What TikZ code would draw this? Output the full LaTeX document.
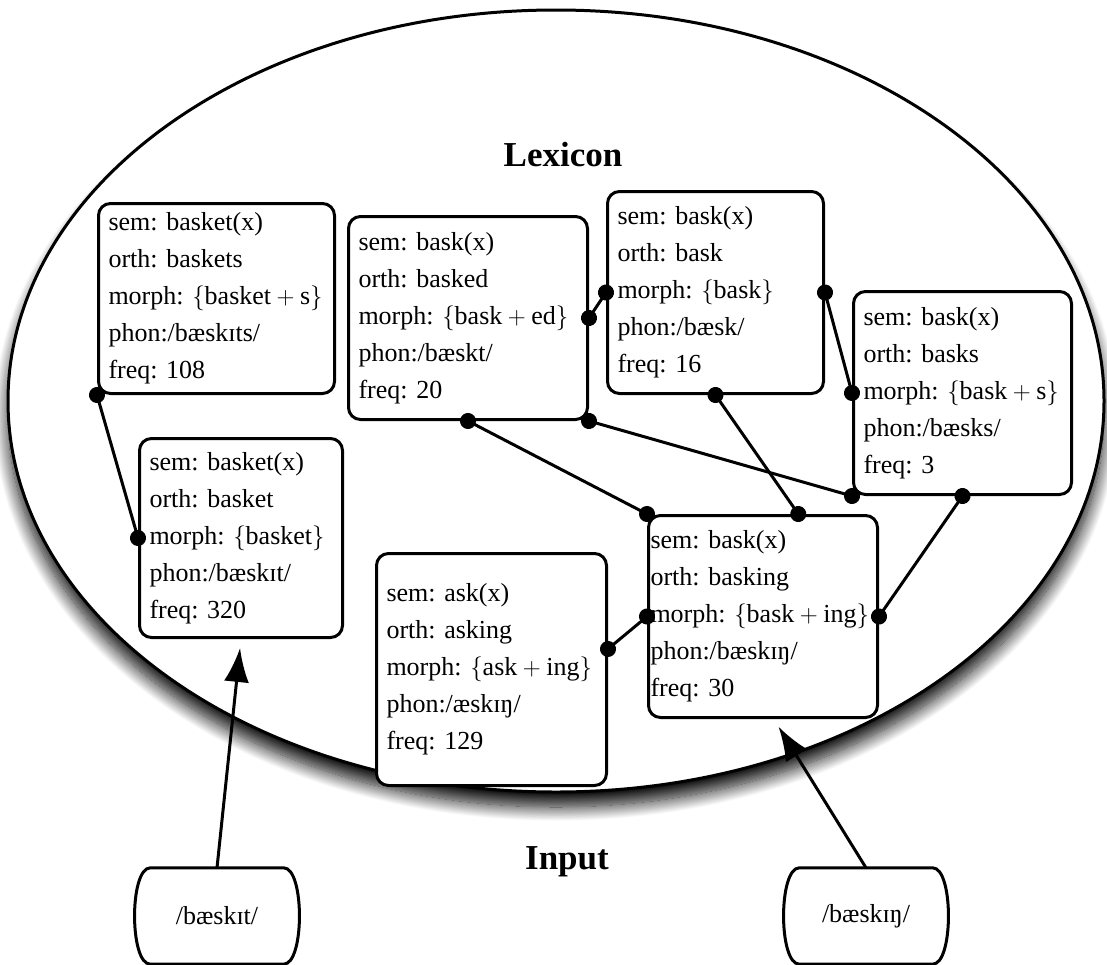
\documentclass[tikz,border=0pt]{standalone}
\usepackage{fontspec}
\setmainfont{Liberation Serif}
\frenchspacing
\usetikzlibrary{arrows.meta,shadows.blur}

\tikzset{
  lexbox/.style={draw, line width=3pt, rounded corners=12pt, fill=white, inner xsep=10pt, inner ysep=0pt, align=left, anchor=north west, font=\fontsize{26}{37}\selectfont},
  inbox/.style={minimum width=165pt, minimum height=96pt, font=\fontsize{26}{37}\selectfont},
  inline/.style={line width=3pt, fill=white},
  link/.style={line width=3pt, {Circle[length=16pt,fill=black]}-{Circle[length=16pt,fill=black]}, shorten <=-8pt, shorten >=-8pt},
  feed/.style={line width=3pt, -{Latex[length=34pt,width=25pt,fill=black]}, shorten >=9pt},
  title/.style={font=\fontsize{35}{40}\selectfont\bfseries}
}

\begin{document}
\begin{tikzpicture}[x=1pt,y=-1pt]

\useasboundingbox (0,0) rectangle (1107,964);

\draw[line width=3pt, fill=white, blur shadow={shadow xshift=0pt, shadow yshift=-15pt, shadow blur radius=14pt, shadow blur steps=20, shadow opacity=95}] (556,401) ellipse [x radius=548, y radius=391];

\node[title] (lex) at (563,155) {Lexicon};
\node[title] (inp) at (567,862) {Input};

\node[lexbox, text width=216pt, minimum height=190pt] (b1) at (97,202) {sem: basket(x)\\orth: baskets\\morph: $\{\mbox{basket}+\mbox{s}\}$\\phon:/bæskɪts/\\freq: 108};
\node[lexbox, text width=183pt, minimum height=199pt] (b2) at (138,437) {sem: basket(x)\\orth: basket\\morph: $\{\mbox{basket}\}$\\phon:/bæskɪt/\\freq: 320};
\node[lexbox, text width=219pt, minimum height=203pt] (b3) at (347,215) {sem: bask(x)\\orth: basked\\morph: $\{\mbox{bask}+\mbox{ed}\}$\\phon:/bæskt/\\freq: 20};
\node[lexbox, text width=196pt, minimum height=202pt] (b4) at (606,190) {sem: bask(x)\\orth: bask\\morph: $\{\mbox{bask}\}$\\phon:/bæsk/\\freq: 16};
\node[lexbox, text width=198pt, minimum height=203pt] (b5) at (852,290) {sem: bask(x)\\orth: basks\\morph: $\{\mbox{bask}+\mbox{s}\}$\\phon:/bæsks/\\freq: 3};
\node[lexbox, inner xsep=2pt, text width=225pt, minimum height=202pt] (b6) at (647,514) {sem: bask(x)\\orth: basking\\morph: $\{\mbox{bask}+\mbox{ing}\}$\\phon:/bæskɪŋ/\\freq: 30};
\node[lexbox, text width=210pt, minimum height=232pt] (b7) at (375,552) {sem: ask(x)\\orth: asking\\morph: $\{\mbox{ask}+\mbox{ing}\}$\\phon:/æskɪŋ/\\freq: 129};

\draw[link] (b1.south west) -- (b2.west);
\draw[link] (b3.east) -- (b4.west);
\draw[link] (b4.east) -- (b5.west);
\draw[link] (b3.south east) -- (b5.south west);
\draw[link] (b3.south) -- (b6.north west);
\draw[link] (b4.south) -- (b6.71);
\draw[link] (b5.south) -- (b6.east);
\draw[link] (b7.10) -- (b6.west);

% input boxes with bulging sides
\node[inbox] (in1) at (217,916) {};
\node[inbox] (in2) at (866,916) {};
\foreach \n in {in1,in2}
  \draw[inline] ([xshift=16pt]\n.north west) -- ([xshift=-16pt]\n.north east)
    .. controls ([xshift=5pt]\n.north east) and ([xshift=5pt]\n.south east) .. ([xshift=-16pt]\n.south east)
    -- ([xshift=16pt]\n.south west)
    .. controls ([xshift=-5pt]\n.south west) and ([xshift=-5pt]\n.north west) .. cycle;
\node[inbox] at (in1) {/bæskɪt/};
\node[inbox] at (in2) {/bæskɪŋ/};

\draw[feed] (in1.north) -- (b2.south);
\draw[feed] (in2.north) -- (b6.-84);

\end{tikzpicture}
\end{document}
